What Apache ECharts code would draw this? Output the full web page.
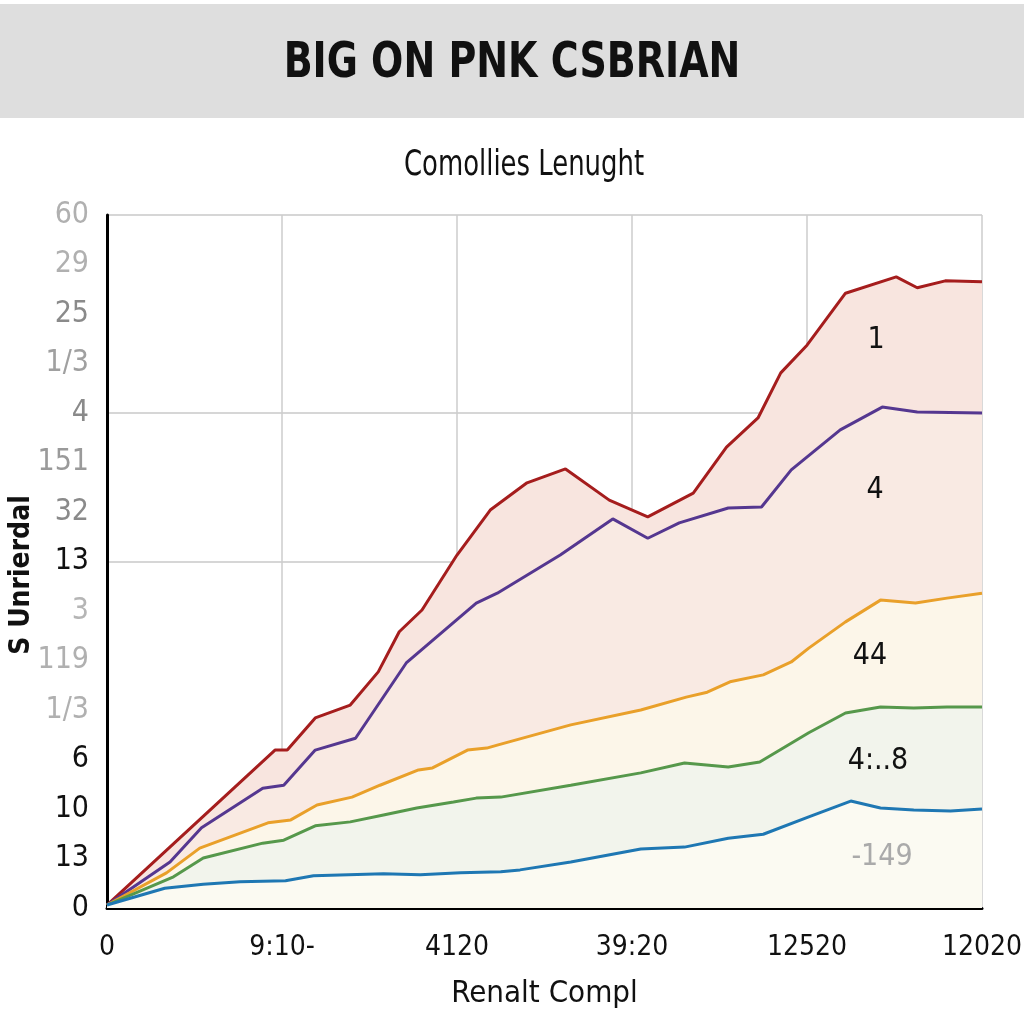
<!DOCTYPE html>
<html>
<head>
<meta charset="utf-8">
<script src="https://cdn.jsdelivr.net/npm/echarts@6/dist/echarts.min.js"></script>
<style>html,body{margin:0;padding:0;background:#fff}#c{width:1024px;height:1024px}</style>
</head>
<body>
<div id="c"></div>
<script>
// ---- data ----
const xTickLabels = ['0', '9:10-', '4120', '39:20', '12520', '12020'];
const yTickLabels = ['0', '13', '10', '6', '1/3', '119', '3', '13', '32', '151', '4', '1/3', '25', '29', '60'];
const seriesNames = ['1', '4', '44', '4:..8', '-149'];

const redData = [[0,0.06],[0.96,3.19],[1.03,3.19],[1.19,3.84],[1.39,4.10],[1.55,4.77],[1.67,5.58],[1.80,6.02],[2.00,7.13],[2.19,8.04],[2.40,8.59],[2.62,8.87],[2.87,8.24],[3.09,7.90],[3.35,8.38],[3.54,9.31],[3.72,9.90],[3.85,10.81],[4.00,11.37],[4.22,12.42],[4.51,12.75],[4.63,12.53],[4.79,12.67],[5.00,12.65]];
const purpleData = [[0,0.06],[0.36,0.93],[0.54,1.62],[0.89,2.42],[1.01,2.48],[1.19,3.19],[1.42,3.43],[1.71,4.95],[2.11,6.16],[2.23,6.36],[2.59,7.13],[2.89,7.86],[3.09,7.47],[3.27,7.78],[3.55,8.08],[3.74,8.10],[3.91,8.85],[4.19,9.66],[4.43,10.12],[4.63,10.02],[5.00,10.00]];
const orangeData = [[0,0.06],[0.34,0.71],[0.53,1.21],[0.92,1.72],[1.05,1.78],[1.20,2.08],[1.40,2.24],[1.56,2.48],[1.78,2.79],[1.86,2.83],[2.06,3.19],[2.17,3.23],[2.23,3.29],[2.65,3.70],[3.05,4.00],[3.31,4.26],[3.43,4.36],[3.56,4.57],[3.75,4.71],[3.91,4.97],[4.01,5.25],[4.22,5.78],[4.42,6.22],[4.62,6.16],[4.80,6.26],[5.00,6.36]];
const greenData = [[0,0.06],[0.38,0.63],[0.55,1.01],[0.89,1.31],[1.01,1.37],[1.19,1.66],[1.39,1.74],[1.58,1.88],[1.77,2.02],[1.98,2.14],[2.11,2.22],[2.25,2.24],[2.65,2.48],[3.05,2.73],[3.30,2.93],[3.55,2.85],[3.73,2.95],[4.01,3.54],[4.22,3.94],[4.42,4.06],[4.61,4.04],[4.80,4.06],[5.00,4.06]];
const blueData = [[0,0.06],[0.33,0.40],[0.55,0.48],[0.76,0.53],[1.02,0.55],[1.18,0.65],[1.58,0.69],[1.79,0.67],[2.02,0.71],[2.25,0.73],[2.36,0.77],[2.65,0.93],[3.05,1.19],[3.30,1.23],[3.55,1.41],[3.75,1.49],[4.01,1.84],[4.25,2.16],[4.42,2.02],[4.61,1.98],[4.82,1.96],[5.00,2.00]];

// ---- styles ----
const NARROW = "'Liberation Sans Narrow', 'DejaVu Sans Condensed', 'Noto Sans', sans-serif";
const greyIdx = {14:'#b0b0b0',13:'#b0b0b0',12:'#8a8a8a',11:'#a0a0a0',10:'#8a8a8a',9:'#9a9a9a',8:'#8a8a8a',6:'#b5b5b5',5:'#b0b0b0',4:'#b0b0b0'};
const rich = {};
for (let i = 0; i < 15; i++) rich['c' + i] = {color: greyIdx[i] || '#111', fontSize: 30, fontFamily: NARROW};
const splitColors = [];
for (let i = 0; i < 15; i++) splitColors.push((i === 7 || i === 10 || i === 14) ? '#c8c8c8' : 'rgba(0,0,0,0)');

const lineCfg = [
  {data: redData, color: '#a51d1d', area: '#f8e5df'},
  {data: purpleData, color: '#553790', area: '#f9eae3'},
  {data: orangeData, color: '#e9a02a', area: '#fcf6e9'},
  {data: greenData, color: '#56984b', area: '#f2f4ec'},
  {data: blueData, color: '#1e77b3', area: '#fbfaf2'}
];

const chart = echarts.init(document.getElementById('c'));
chart.setOption({
  backgroundColor: '#ffffff',
  animation: false,
  graphic: [
    {type: 'rect', z: -10, shape: {x: 0, y: 4, width: 1024, height: 114}, style: {fill: '#dedede'}},
    {type: 'text', x: 512, y: 64, scaleX: 0.88, scaleY: 1.05, style: {text: 'BIG ON PNK CSBRIAN', font: "bold 48px " + NARROW, fill: '#111', align: 'center', verticalAlign: 'middle'}},
    {type: 'text', x: 524, y: 166, scaleX: 0.9, scaleY: 1.1, style: {text: 'Comollies Lenught', font: "32px " + NARROW, fill: '#111', align: 'center', verticalAlign: 'middle'}},
    {type: 'text', x: 22, y: 575, rotation: Math.PI / 2, style: {text: 'S Unrierdal', font: "bold 28px " + NARROW, fill: '#111', align: 'center', verticalAlign: 'middle'}},
    {type: 'text', x: 876, y: 340, style: {text: seriesNames[0], font: "30px " + NARROW, fill: '#111', align: 'center', verticalAlign: 'middle'}, z: 20},
    {type: 'text', x: 875, y: 490, style: {text: seriesNames[1], font: "30px " + NARROW, fill: '#111', align: 'center', verticalAlign: 'middle'}, z: 20},
    {type: 'text', x: 870, y: 656, style: {text: seriesNames[2], font: "30px " + NARROW, fill: '#111', align: 'center', verticalAlign: 'middle'}, z: 20},
    {type: 'text', x: 878, y: 761, style: {text: seriesNames[3], font: "30px " + NARROW, fill: '#111', align: 'center', verticalAlign: 'middle'}, z: 20},
    {type: 'text', x: 882, y: 857, style: {text: seriesNames[4], font: "30px " + NARROW, fill: '#aaaaaa', align: 'center', verticalAlign: 'middle'}, z: 20}
  ],
  grid: {left: 107, right: 42, top: 215, bottom: 116, containLabel: false, outerBoundsMode: 'none'},
  xAxis: {
    type: 'value', min: 0, max: 5, interval: 1,
    name: 'Renalt Compl', nameLocation: 'middle', nameGap: 70,
    nameTextStyle: {fontFamily: NARROW, fontSize: 31, color: '#111'},
    axisLine: {show: true, onZero: false, lineStyle: {color: '#000', width: 3}},
    axisTick: {show: false},
    axisLabel: {formatter: v => xTickLabels[Math.round(v)], fontFamily: NARROW, fontSize: 28, color: '#111', margin: 26},
    splitLine: {show: true, lineStyle: {color: '#cccccc', width: 1.5}}
  },
  yAxis: {
    type: 'value', min: 0, max: 14, interval: 1,
    axisLine: {show: true, onZero: false, lineStyle: {color: '#000', width: 3}},
    axisTick: {show: false},
    axisLabel: {
      formatter: v => '{c' + Math.round(v) + '|' + yTickLabels[Math.round(v)] + '}',
      rich: rich, margin: 18
    },
    splitLine: {show: true, lineStyle: {color: splitColors, width: 1.5}}
  },
  series: lineCfg.map((c, i) => ({
    type: 'line', name: seriesNames[i], data: c.data, symbol: 'none',
    lineStyle: {color: c.color, width: 3}, itemStyle: {color: c.color},
    areaStyle: {color: c.area, opacity: 1}, z: 2 + i
  }))
});
</script>
</body>
</html>
